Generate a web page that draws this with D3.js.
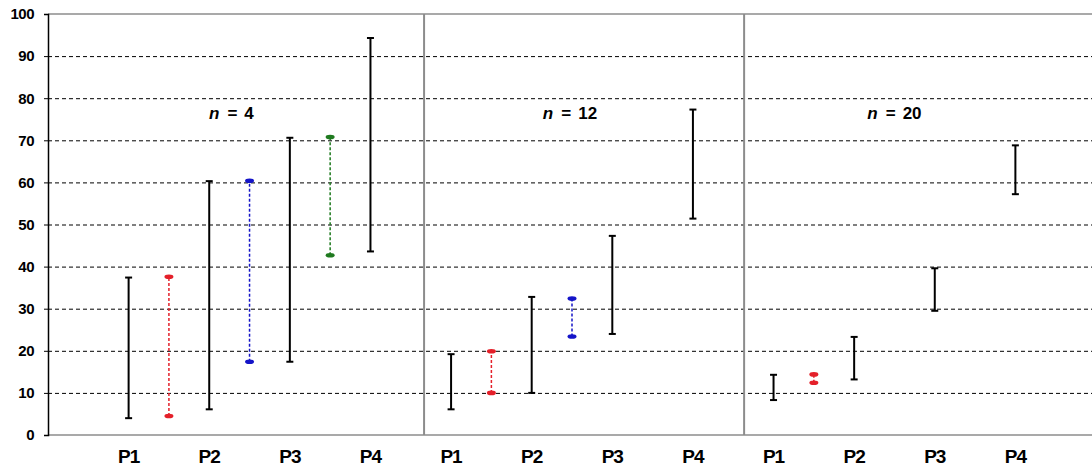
<!DOCTYPE html>
<html>
<head>
<meta charset="utf-8">
<script src="https://cdn.jsdelivr.net/npm/d3@7"></script>
<style>
  body { margin: 0; background: #fff; }
  text { font-family: "Liberation Sans", Arial, sans-serif; font-weight: bold; }
</style>
</head>
<body>
<svg id="chart" width="1092" height="471"></svg>
<script>
// slot index of each mark along the x axis (panel 1: 0-6, panel 2: 8-14, panel 3: 16-22)
const panelTitles = ['4', '12', '20']
const titleSlots = [2.55, 10.95, 19.0]
const separatorSlots = [7.33, 15.27]
const categoryLabels = ['P1', 'P2', 'P3', 'P4', 'P1', 'P2', 'P3', 'P4', 'P1', 'P2', 'P3', 'P4']
const labelSlots = [0, 2, 4, 6, 8, 10, 12, 14, 16, 18, 20, 22]

// black intervals
const blackSlots = [0, 2, 4, 6, 8, 10, 12, 14, 16, 18, 20, 22]
const blackLow  = [4.0, 6.1, 17.4, 43.6, 6.1, 10.0, 24.0, 51.4, 8.3, 13.2, 29.5, 57.2]
const blackHigh = [37.4, 60.3, 70.6, 94.3, 19.2, 32.8, 47.3, 77.3, 14.3, 23.3, 39.6, 68.8]

// coloured (dashed) intervals
const colorSlots = [1, 3, 5, 9, 11, 17]
const colorLow  = [4.5, 17.4, 42.7, 10.0, 23.4, 12.4]
const colorHigh = [37.6, 60.4, 70.8, 19.9, 32.4, 14.4]
const colorName = ['red', 'blue', 'green', 'red', 'blue', 'red']

const yTicks = [0, 10, 20, 30, 40, 50, 60, 70, 80, 90, 100]

const palette = { red: '#e4202a', blue: '#1414c8', green: '#1f7a1f' }

const svg = d3.select('#chart')
const x = d3.scaleLinear().domain([-2, 24]).range([48, 1096])
const y = d3.scaleLinear().domain([0, 100]).range([435, 14])

// grid lines
svg.append('g')
  .selectAll('line')
  .data(yTicks.filter(d => d > 0 && d < 100))
  .enter()
  .append('line')
  .attr('x1', x(-2)).attr('x2', 1092)
  .attr('y1', d => y(d) + 0.5).attr('y2', d => y(d) + 0.5)
  .attr('stroke', '#000')
  .attr('stroke-width', 1)
  .attr('stroke-dasharray', '4,3')

// top border and baseline
svg.append('line')
  .attr('x1', x(-2)).attr('x2', 1092)
  .attr('y1', y(100)).attr('y2', y(100))
  .attr('stroke', '#8c8c8c').attr('stroke-width', 1.5)
svg.append('line')
  .attr('x1', x(-2)).attr('x2', 1092)
  .attr('y1', y(0)).attr('y2', y(0))
  .attr('stroke', '#8c8c8c').attr('stroke-width', 1.5)

// panel separators
svg.append('g')
  .selectAll('line')
  .data(separatorSlots)
  .enter()
  .append('line')
  .attr('x1', d => x(d)).attr('x2', d => x(d))
  .attr('y1', y(100)).attr('y2', y(0))
  .attr('stroke', '#8c8c8c')
  .attr('stroke-width', 2)

// y axis
const yAxis = d3.axisLeft(y).tickValues(yTicks).tickSize(4).tickPadding(10)
const gy = svg.append('g')
  .attr('transform', `translate(${x(-2)},0)`)
  .call(yAxis)
gy.select('.domain').attr('stroke', '#000').attr('stroke-width', 1.5)
gy.selectAll('.tick line').attr('stroke', '#000')
gy.selectAll('.tick text')
  .attr('font-size', 15)
  .attr('fill', '#000')
  .style('font-family', '"Liberation Sans", Arial, sans-serif')
  .style('font-weight', 'bold')
  .style('letter-spacing', '-0.5px')

// category labels
svg.append('g')
  .selectAll('text')
  .data(categoryLabels)
  .enter()
  .append('text')
  .attr('x', (d, i) => x(labelSlots[i]))
  .attr('y', 463)
  .attr('text-anchor', 'middle')
  .attr('font-size', 19)
  .style('letter-spacing', '-1px')
  .text(d => d)

// panel titles
const titles = svg.append('g')
  .selectAll('text')
  .data(panelTitles)
  .enter()
  .append('text')
  .attr('x', (d, i) => x(titleSlots[i]))
  .attr('y', 119)
  .attr('text-anchor', 'middle')
  .attr('font-size', 17)
titles.append('tspan').attr('font-style', 'italic').text('n')
titles.append('tspan').attr('dx', 8).text('=')
titles.append('tspan').attr('dx', 7).text(d => d)

// black intervals
const black = svg.append('g').selectAll('g')
  .data(blackSlots)
  .enter()
  .append('g')
black.append('line')
  .attr('x1', d => x(d)).attr('x2', d => x(d))
  .attr('y1', (d, i) => y(blackLow[i])).attr('y2', (d, i) => y(blackHigh[i]))
  .attr('stroke', '#000').attr('stroke-width', 2)
black.append('line')
  .attr('x1', d => x(d) - 3.5).attr('x2', d => x(d) + 3.5)
  .attr('y1', (d, i) => y(blackLow[i])).attr('y2', (d, i) => y(blackLow[i]))
  .attr('stroke', '#000').attr('stroke-width', 2)
black.append('line')
  .attr('x1', d => x(d) - 3.5).attr('x2', d => x(d) + 3.5)
  .attr('y1', (d, i) => y(blackHigh[i])).attr('y2', (d, i) => y(blackHigh[i]))
  .attr('stroke', '#000').attr('stroke-width', 2)

// coloured intervals
const colored = svg.append('g').selectAll('g')
  .data(colorSlots)
  .enter()
  .append('g')
colored.append('line')
  .attr('x1', d => x(d)).attr('x2', d => x(d))
  .attr('y1', (d, i) => y(colorLow[i])).attr('y2', (d, i) => y(colorHigh[i]))
  .attr('stroke', (d, i) => palette[colorName[i]])
  .attr('stroke-width', 1.5)
  .attr('stroke-dasharray', '3,2')
colored.append('ellipse')
  .attr('cx', d => x(d)).attr('cy', (d, i) => y(colorLow[i]))
  .attr('rx', 4.5).attr('ry', 2.3)
  .attr('fill', (d, i) => palette[colorName[i]])
colored.append('ellipse')
  .attr('cx', d => x(d)).attr('cy', (d, i) => y(colorHigh[i]))
  .attr('rx', 4.5).attr('ry', 2.3)
  .attr('fill', (d, i) => palette[colorName[i]])
</script>
</body>
</html>
